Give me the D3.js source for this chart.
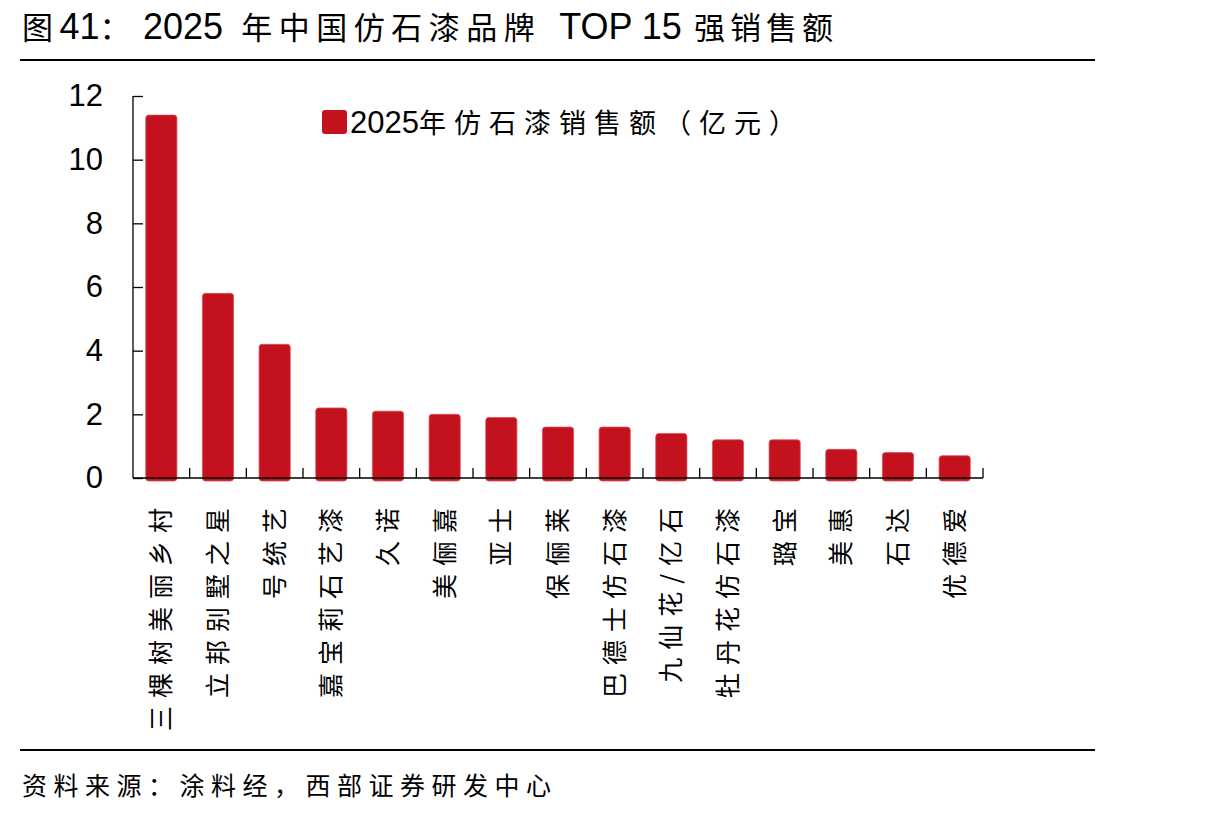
<!DOCTYPE html>
<html>
<head>
<meta charset="utf-8">
<script src="https://cdn.jsdelivr.net/npm/d3@7"></script>
<style>
  body { margin: 0; background: #fff; }
  svg { display: block; }
  .cjk { font-family: "Noto Sans CJK SC", sans-serif; }
  .num { font-family: Arial, "Liberation Sans", sans-serif; }
</style>
</head>
<body>
<div id="chart"></div>
<script>
// chart data
const brands = ["三棵树美丽乡村", "立邦别墅之星", "号统艺", "嘉宝莉石艺漆", "久诺", "美俪嘉", "亚士",
  "保俪莱", "巴德士仿石漆", "九仙花/亿石", "牡丹花仿石漆", "璐宝", "美惠", "石达", "优德爱"];
const sales = [11.4, 5.8, 4.2, 2.2, 2.1, 2.0, 1.9, 1.6, 1.6, 1.4, 1.2, 1.2, 0.9, 0.8, 0.7];
const yTicks = [0, 2, 4, 6, 8, 10, 12];

const width = 1215, height = 818;
const plot = { left: 133, right: 983, top: 96, bottom: 478 };
const barColor = "#c3111e";

const svg = d3.select("#chart").append("svg")
  .attr("width", width).attr("height", height);

// ========== TITLE + RULES ==========
const title = svg.append("text").attr("x", 22).attr("y", 39).attr("fill", "#000");
// [text, font class, dx, letter-spacing]
[["图", "cjk", 0, 6.5], ["41", "num", 0, 0], ["：", "cjk", 0, 6.5], ["2025", "num", 6, 0],
 ["年中国仿石漆品牌", "cjk", 18, 6.5], ["TOP 15", "num", 18, 0], ["强销售额", "cjk", 12, 5]].forEach(([t, c, dx, ls]) => {
  title.append("tspan").attr("class", c).text(t)
    .attr("dx", dx)
    .attr("font-size", c === "cjk" ? 31 : 36)
    .attr("letter-spacing", ls);
});

svg.append("line").attr("x1", 20).attr("x2", 1095).attr("y1", 60).attr("y2", 60)
  .attr("stroke", "#000").attr("stroke-width", 2);
svg.append("line").attr("x1", 20).attr("x2", 1095).attr("y1", 750).attr("y2", 750)
  .attr("stroke", "#000").attr("stroke-width", 2);

svg.append("text").attr("class", "cjk").attr("x", 22).attr("y", 795)
  .attr("font-size", 25).attr("letter-spacing", 6.5)
  .text("资料来源：涂料经，西部证券研发中心");

// ========== SCALES ==========
const xScale = d3.scaleBand().domain(brands)
  .range([plot.left, plot.right]).paddingInner(0.45).paddingOuter(0.225);
const yScale = d3.scaleLinear().domain([0, 12]).range([plot.bottom, plot.top]);

// ========== BARS ==========
svg.append("g").selectAll("rect").data(sales).join("rect")
  .attr("x", (d, i) => xScale(brands[i]))
  .attr("y", d => yScale(d))
  .attr("width", xScale.bandwidth())
  .attr("height", d => yScale(0) - yScale(d) + 3)
  .attr("rx", 3)
  .attr("fill", barColor)
  .attr("stroke", "#d9505b")
  .attr("stroke-width", 0.8);

// ========== AXES ==========
const leftAxis = d3.axisLeft(yScale).tickValues(yTicks).tickSize(0).tickPadding(30);
const yAxisG = svg.append("g").attr("transform", `translate(${plot.left},0)`).call(leftAxis);
yAxisG.select(".domain").remove();
yAxisG.selectAll("text").attr("class", "num").attr("font-size", 31).attr("fill", "#000")
  .attr("font-family", "Arial, 'Liberation Sans', sans-serif");
// inward ticks
yAxisG.selectAll(".tick").append("line").attr("x1", 0).attr("x2", 10)
  .attr("stroke", "#000").attr("stroke-width", 1.3);
yAxisG.append("line").attr("x1", 0).attr("x2", 0)
  .attr("y1", plot.top).attr("y2", plot.bottom)
  .attr("stroke", "#000").attr("stroke-width", 1.3);

const xAxisG = svg.append("g");
xAxisG.append("line").attr("x1", plot.left).attr("x2", plot.right)
  .attr("y1", plot.bottom).attr("y2", plot.bottom)
  .attr("stroke", "#000").attr("stroke-width", 1.3);
// tick marks between categories
xAxisG.selectAll("line.tk").data(brands).join("line").attr("class", "tk")
  .attr("x1", d => xScale(d) + xScale.bandwidth() + xScale.step() * xScale.paddingInner() / 2)
  .attr("x2", d => xScale(d) + xScale.bandwidth() + xScale.step() * xScale.paddingInner() / 2)
  .attr("y1", plot.bottom).attr("y2", plot.bottom - 10)
  .attr("stroke", "#000").attr("stroke-width", 1.3);

// vertical category labels
xAxisG.selectAll("text").data(brands).join("text")
  .attr("class", "cjk")
  .attr("transform", d => `translate(${xScale(d) + xScale.bandwidth() / 2}, 500) rotate(-90)`)
  .attr("text-anchor", "end")
  .attr("dy", "0.36em")
  .attr("font-size", 25)
  .attr("letter-spacing", 8)
  .text(d => d);

// ========== LEGEND ==========
const legend = svg.append("g").attr("transform", "translate(322,110)");
legend.append("rect").attr("width", 25).attr("height", 24).attr("rx", 3).attr("fill", barColor);
const lt = legend.append("text").attr("x", 28).attr("y", 23).attr("font-size", 31);
lt.append("tspan").attr("class", "num").text("2025");
lt.append("tspan").attr("class", "cjk").attr("font-size", 27).attr("letter-spacing", 8)
  .text("年仿石漆销售额（亿元）");
</script>
</body>
</html>
